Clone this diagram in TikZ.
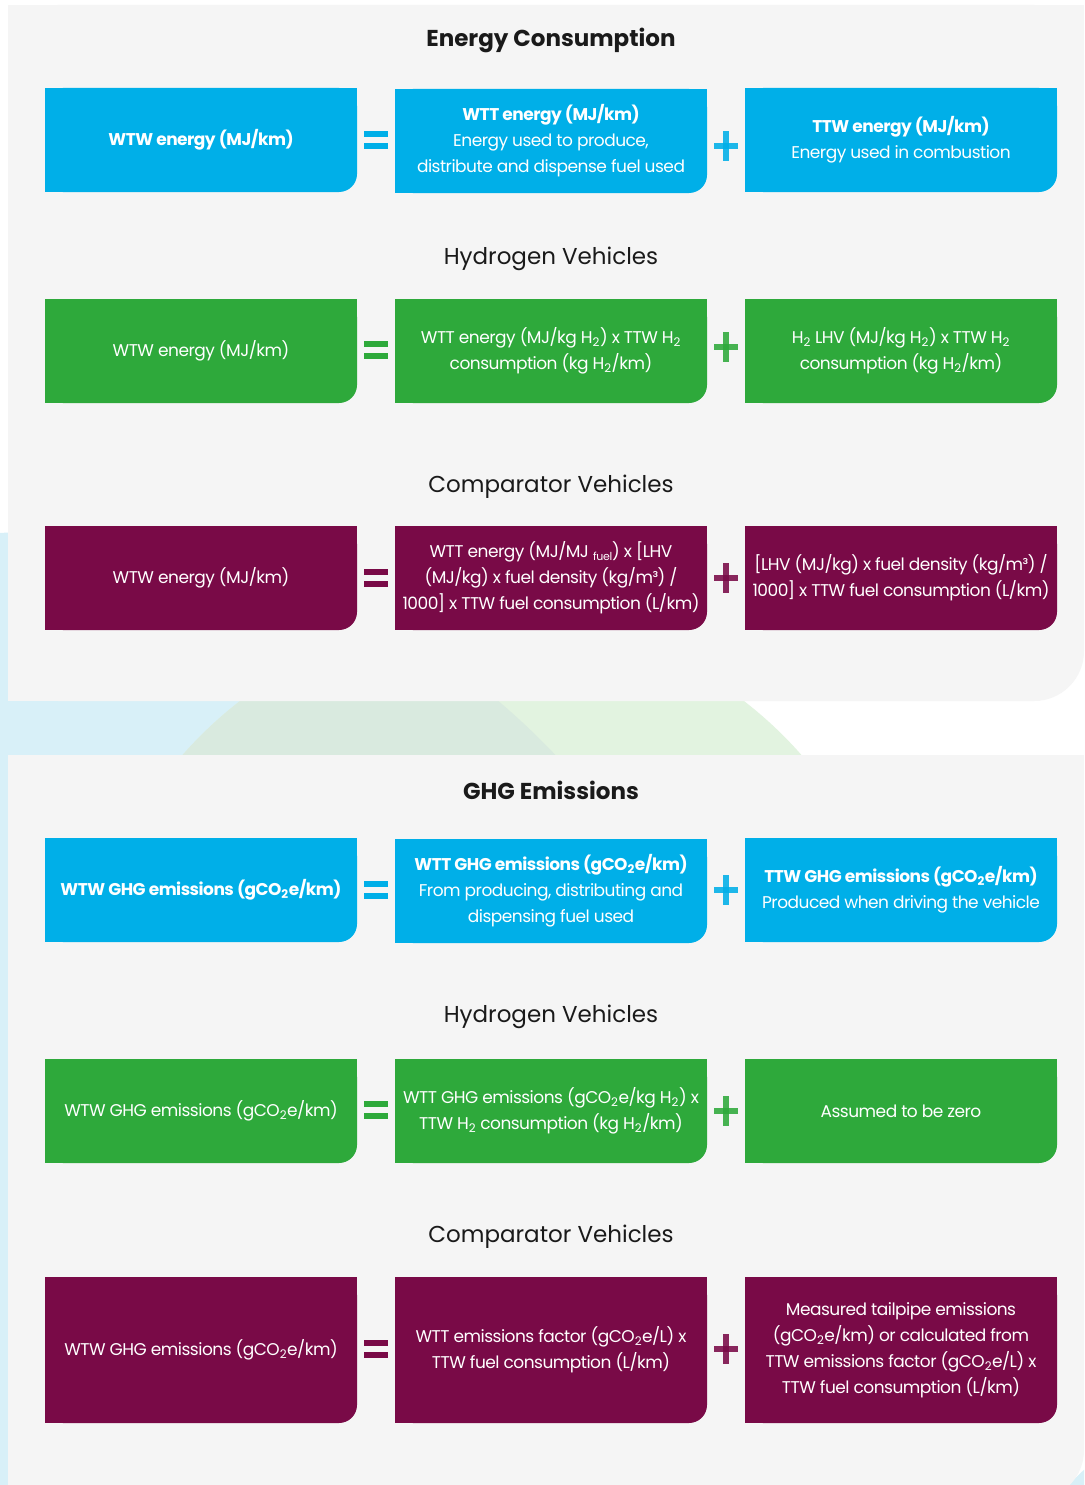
\documentclass[tikz,border=0pt]{standalone}
\usepackage{fontspec}
\setmainfont{Poppins}[LetterSpace=-3]
\newfontfamily\ttlfont{Poppins}
\definecolor{cblue}{HTML}{00AFE8}
\definecolor{cgreen}{HTML}{2EA93B}
\definecolor{cpurple}{HTML}{790A47}
\definecolor{panel}{HTML}{F5F5F5}
\definecolor{lblue}{HTML}{D8F0F8}
\definecolor{lgreen}{HTML}{E2F3E0}
\definecolor{lmix}{HTML}{D9EADF}
\definecolor{ttl}{HTML}{1A1A1A}
\newcommand\boxfont{\fontsize{17}{26}\selectfont}
\newcommand\sbs[1]{\textsubscript{#1}}
\newcommand\fuelsub{\raisebox{-0.25ex}{\fontsize{11}{11}\selectfont fuel}}
\newcommand\eqsign[3]{%
  \fill[#3] (#1-12,#2-9) rectangle (#1+12,#2-3);
  \fill[#3] (#1-12,#2+3) rectangle (#1+12,#2+9);}
\newcommand\plussign[3]{%
  \fill[#3,opacity=0.88] (#1-12,#2-3) rectangle (#1+12,#2+3);
  \fill[#3,opacity=0.88] (#1-3,#2-15) rectangle (#1+3,#2+15);}
\newcommand\squarecorners[2]{%
  \fill[#2] (#1.north west) rectangle +(18pt,-18pt);
  \fill[#2] (#1.north east) rectangle +(-18pt,-18pt);
  \fill[#2] (#1.south west) rectangle +(18pt,18pt);}
\begin{document}
\begin{tikzpicture}[x=1pt,y=-1pt,
  box/.style={fill=#1, rounded corners=18pt, minimum width=312pt, minimum height=104pt,
    text=white, align=center, font=\boxfont, inner sep=3pt},
  ttlb/.style={text=ttl, font=\ttlfont\fontsize{23}{28}\selectfont\bfseries},
  ttlr/.style={text=ttl, font=\ttlfont\fontsize{23}{28}\selectfont}]
\useasboundingbox (0,0) rectangle (1084,1485);
% background
\fill[white] (0,0) rectangle (1084,1485);
\begin{scope}
\clip (0,0) rectangle (1084,1485);
\fill[lblue] (37,1246) circle[radius=714pt];
\fill[lblue] (1250,1650) circle[radius=245pt];
\fill[lgreen] (492,1027) circle[radius=412pt];
\begin{scope}
\clip (37,1246) circle[radius=714pt];
\fill[lmix] (492,1027) circle[radius=412pt];
\end{scope}
\fill[panel, rounded corners=50pt] (8,5) -- (1084,5) -- (1084,701) -- (8,701) -- cycle;
\fill[panel] (8,5) rectangle (1040,701);
\fill[panel] (8,5) rectangle (1084,650);
\fill[panel, rounded corners=50pt] (8,755) -- (1084,755) -- (1084,1500) -- (8,1500) -- cycle;
\fill[panel] (8,755) rectangle (1040,1500);
\fill[panel] (8,755) rectangle (1084,1440);
\end{scope}

% ---------- Energy consumption ----------
\node[ttlb] (t1) at (551,40) {Energy Consumption};
\node[box=cblue] (a1) at (201,140) {\bfseries WTW energy (MJ/km)};
\node[box=cblue] (a2) at (551,141) {{\bfseries WTT energy (MJ/km)}\\Energy used to produce,\\distribute and dispense fuel used};
\node[box=cblue] (a3) at (901,140) {{\bfseries TTW energy (MJ/km)}\\Energy used in combustion};
\squarecorners{a1}{cblue}\squarecorners{a2}{cblue}\squarecorners{a3}{cblue}
\eqsign{376}{140}{cblue}
\plussign{726}{146}{cblue}

\node[ttlr] (t2) at (551,259) {Hydrogen Vehicles};
\node[box=cgreen] (b1) at (201,351) {WTW energy (MJ/km)};
\node[box=cgreen] (b2) at (551,351) {WTT energy (MJ/kg H\sbs{2}) x TTW H\sbs{2}\\consumption (kg H\sbs{2}/km)};
\node[box=cgreen] (b3) at (901,351) {H\sbs{2} LHV (MJ/kg H\sbs{2}) x TTW H\sbs{2}\\consumption (kg H\sbs{2}/km)};
\squarecorners{b1}{cgreen}\squarecorners{b2}{cgreen}\squarecorners{b3}{cgreen}
\eqsign{376}{350}{cgreen}
\plussign{726}{347}{cgreen}

\node[ttlr] (t3) at (551,487) {Comparator Vehicles};
\node[box=cpurple] (c1) at (201,578) {WTW energy (MJ/km)};
\node[box=cpurple] (c2) at (551,578) {WTT energy (MJ/MJ \fuelsub) x [LHV\\(MJ/kg) x fuel density (kg/m³) /\\1000] x TTW fuel consumption (L/km)};
\node[box=cpurple] (c3) at (901,578) {[LHV (MJ/kg) x fuel density (kg/m³) /\\1000] x TTW fuel consumption (L/km)};
\squarecorners{c1}{cpurple}\squarecorners{c2}{cpurple}\squarecorners{c3}{cpurple}
\eqsign{376}{578}{cpurple}
\plussign{726}{578}{cpurple}

% ---------- GHG emissions ----------
\node[ttlb] (t4) at (551,790) {GHG Emissions};
\node[box=cblue] (d1) at (201,890) {\bfseries WTW GHG emissions (gCO\sbs{2}e/km)};
\node[box=cblue] (d2) at (551,891) {{\bfseries WTT GHG emissions (gCO\sbs{2}e/km)}\\From producing, distributing and\\dispensing fuel used};
\node[box=cblue] (d3) at (901,890) {{\bfseries TTW GHG emissions (gCO\sbs{2}e/km)}\\Produced when driving the vehicle};
\squarecorners{d1}{cblue}\squarecorners{d2}{cblue}\squarecorners{d3}{cblue}
\eqsign{376}{890}{cblue}
\plussign{726}{890}{cblue}

\node[ttlr] (t5) at (551,1017) {Hydrogen Vehicles};
\node[box=cgreen] (e1) at (201,1111) {WTW GHG emissions (gCO\sbs{2}e/km)};
\node[box=cgreen] (e2) at (551,1111) {WTT GHG emissions (gCO\sbs{2}e/kg H\sbs{2}) x\\TTW H\sbs{2} consumption (kg H\sbs{2}/km)};
\node[box=cgreen] (e3) at (901,1111) {Assumed to be zero};
\squarecorners{e1}{cgreen}\squarecorners{e2}{cgreen}\squarecorners{e3}{cgreen}
\eqsign{376}{1110}{cgreen}
\plussign{726}{1111}{cgreen}

\node[ttlr] (t6) at (551,1237) {Comparator Vehicles};
\node[box=cpurple, minimum height=146pt] (f1) at (201,1350) {WTW GHG emissions (gCO\sbs{2}e/km)};
\node[box=cpurple, minimum height=146pt] (f2) at (551,1350) {WTT emissions factor (gCO\sbs{2}e/L) x\\TTW fuel consumption (L/km)};
\node[box=cpurple, minimum height=146pt] (f3) at (901,1350) {Measured tailpipe emissions\\(gCO\sbs{2}e/km) or calculated from\\TTW emissions factor (gCO\sbs{2}e/L) x\\TTW fuel consumption (L/km)};
\squarecorners{f1}{cpurple}\squarecorners{f2}{cpurple}\squarecorners{f3}{cpurple}
\eqsign{376}{1349}{cpurple}
\plussign{726}{1349}{cpurple}
\end{tikzpicture}
\end{document}
